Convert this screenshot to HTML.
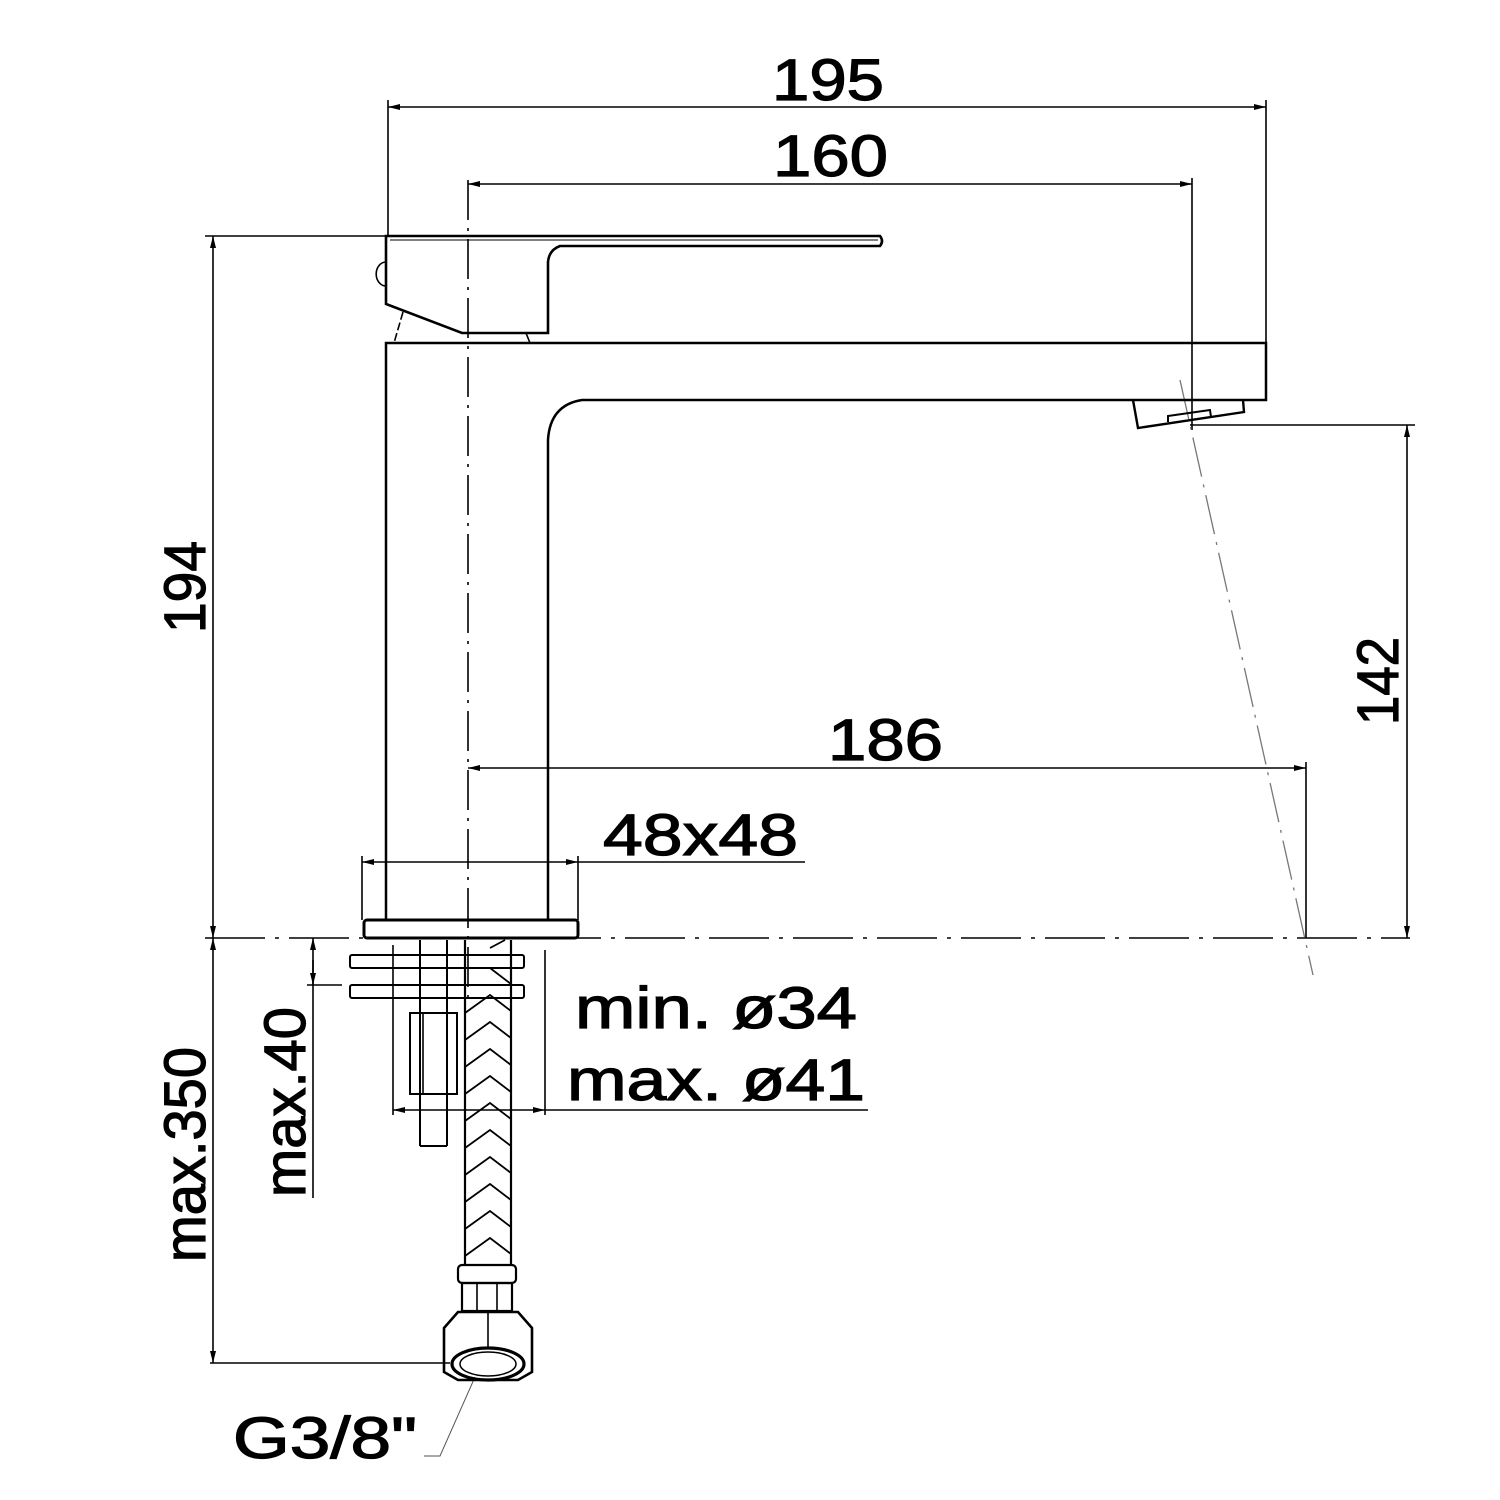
<!DOCTYPE html>
<html><head><meta charset="utf-8"><style>html,body{margin:0;padding:0;background:#fff}svg{display:block}</style></head>
<body>
<svg width="1500" height="1500" viewBox="0 0 1500 1500" xmlns="http://www.w3.org/2000/svg">
<defs>
<marker id="a" viewBox="0 0 12 6" refX="12" refY="3" markerWidth="12" markerHeight="6" orient="auto-start-reverse" markerUnits="userSpaceOnUse"><path d="M0,0 L12,3 L0,6 z" fill="#000"/></marker>
</defs>
<g font-family="Liberation Sans, sans-serif" font-size="58" fill="#000" stroke="#000" stroke-width="1.2">
<text x="772" y="100" textLength="112" lengthAdjust="spacingAndGlyphs">195</text>
<text x="773" y="176" textLength="115" lengthAdjust="spacingAndGlyphs">160</text>
<text x="828" y="760" textLength="115" lengthAdjust="spacingAndGlyphs">186</text>
<text x="603" y="855" textLength="195" lengthAdjust="spacingAndGlyphs">48x48</text>
<text x="575" y="1028" textLength="282" lengthAdjust="spacingAndGlyphs">min. ø34</text>
<text x="567" y="1100" textLength="298" lengthAdjust="spacingAndGlyphs">max. ø41</text>
<text x="233" y="1458" textLength="184" lengthAdjust="spacingAndGlyphs">G3/8"</text>
<text transform="translate(205,633) rotate(-90)" textLength="92" lengthAdjust="spacingAndGlyphs">194</text>
<text transform="translate(1398,725) rotate(-90)" textLength="88" lengthAdjust="spacingAndGlyphs">142</text>
<text transform="translate(205,1262) rotate(-90)" textLength="215" lengthAdjust="spacingAndGlyphs">max.350</text>
<text transform="translate(305,1197) rotate(-90)" textLength="190" lengthAdjust="spacingAndGlyphs">max.40</text>
</g>
<g stroke="#000" fill="none" stroke-width="1.6">
<line x1="388" y1="107" x2="1266" y2="107" marker-start="url(#a)" marker-end="url(#a)"/>
<line x1="388" y1="100" x2="388" y2="236"/>
<line x1="1266" y1="100" x2="1266" y2="343"/>
<line x1="468" y1="184" x2="1192" y2="184" marker-start="url(#a)" marker-end="url(#a)"/>
<line x1="1192" y1="178" x2="1192" y2="430"/>
<line x1="205" y1="236" x2="388" y2="236"/>
<line x1="213" y1="236" x2="213" y2="938" marker-start="url(#a)" marker-end="url(#a)"/>
<line x1="1190" y1="425" x2="1415" y2="425"/>
<line x1="1407" y1="425" x2="1407" y2="938" marker-start="url(#a)" marker-end="url(#a)"/>
<line x1="468" y1="768" x2="1306" y2="768" marker-start="url(#a)" marker-end="url(#a)"/>
<line x1="1306" y1="762" x2="1306" y2="938"/>
<line x1="362" y1="862" x2="578" y2="862" marker-start="url(#a)" marker-end="url(#a)"/>
<line x1="578" y1="862" x2="805" y2="862"/>
<line x1="362" y1="856" x2="362" y2="920"/>
<line x1="578" y1="856" x2="578" y2="920"/>
<line x1="213" y1="938" x2="213" y2="1363" marker-start="url(#a)" marker-end="url(#a)"/>
<line x1="210" y1="1363" x2="450" y2="1363"/>
<line x1="313" y1="985" x2="313" y2="938" marker-end="url(#a)"/>
<line x1="313" y1="960" x2="313" y2="985" marker-end="url(#a)"/>
<line x1="313" y1="985" x2="313" y2="1198"/>
<line x1="307" y1="985" x2="342" y2="985"/>
<line x1="393" y1="1110" x2="545" y2="1110" marker-start="url(#a)" marker-end="url(#a)"/>
<line x1="545" y1="1110" x2="868" y2="1110"/>
<line x1="393" y1="945" x2="393" y2="1115"/>
<line x1="545" y1="950" x2="545" y2="1115"/>
<polyline points="475,1377 440,1456 424,1456" stroke-width="1" stroke="#555"/>
<line x1="468" y1="180" x2="468" y2="1000" stroke-dasharray="40,8,3,8"/>
<line x1="205" y1="938" x2="1410" y2="938" stroke-dasharray="60,10,4,10"/>
<line x1="1180" y1="380" x2="1313" y2="975" stroke="#777" stroke-width="1.3" stroke-dasharray="40,8,3,8"/>
<path d="M386,236 L880,236 Q884,241 880,246 L560,246 Q549,250 548,262 L548,333 L462,333 L386,304 Z" stroke-width="2.6"/>
<line x1="390" y1="240" x2="878" y2="240" stroke-width="1"/>
<path d="M386,262 A9,11 0 0 0 386,286" stroke-width="1.6"/>
<line x1="403" y1="312" x2="394" y2="343" stroke-dasharray="8,3"/>
<line x1="526" y1="333" x2="530" y2="343"/>
<path d="M386,920 L386,343 L1266,343 L1266,400 L582,400 Q550,405 548,440 L548,920" stroke-width="2.5"/>
<path d="M1133,400 L1138,428 L1244,412 L1243,400" stroke-width="2.4"/>
<path d="M1168,422 L1168,416 L1210,410 L1211,417" stroke-width="2"/>
<rect x="364" y="920" width="214" height="18" rx="3" stroke-width="3"/>
<rect x="350" y="955" width="174" height="13" rx="2" stroke-width="2"/>
<rect x="350" y="985" width="174" height="13" rx="2" stroke-width="2"/>
<line x1="420" y1="940" x2="420" y2="1146" stroke-width="2"/>
<line x1="447" y1="940" x2="447" y2="1146" stroke-width="2"/>
<line x1="420" y1="1146" x2="447" y2="1146" stroke-width="2"/>
<rect x="410" y="1013" width="47" height="81" stroke-width="2"/>
<line x1="423" y1="1013" x2="423" y2="1094"/>
<line x1="465" y1="940" x2="465" y2="1265" stroke-width="2.2"/>
<line x1="511" y1="940" x2="511" y2="1265" stroke-width="2.2"/>
<path d="M465,1040 L490,1022 L511,1038 M465,1067 L490,1049 L511,1065 M465,1094 L490,1076 L511,1092 M465,1121 L490,1103 L511,1119 M465,1148 L490,1130 L511,1146 M465,1175 L490,1157 L511,1173 M465,1202 L490,1184 L511,1200 M465,1229 L490,1211 L511,1227 M465,1256 L490,1238 L511,1254 M465,1013 L490,995 L511,1011 M490,968 L511,984 M490,948 L505,940" stroke-width="1.8"/>
<rect x="458" y="1265" width="58" height="18" rx="4" stroke-width="2.2"/>
<rect x="462" y="1283" width="50" height="28" stroke-width="2.2"/>
<line x1="477" y1="1283" x2="477" y2="1311"/><line x1="497" y1="1283" x2="497" y2="1311"/>
<path d="M444,1328 L458,1312 L518,1312 L532,1328 L532,1372 L518,1380 L458,1380 L444,1372 Z" stroke-width="2.6"/>
<ellipse cx="488" cy="1364" rx="36" ry="16" stroke-width="3.2"/>
<ellipse cx="488" cy="1364" rx="28" ry="12" stroke-width="1.5"/>
<line x1="488" y1="1312" x2="488" y2="1348"/>
</g>
</svg>
</body></html>
